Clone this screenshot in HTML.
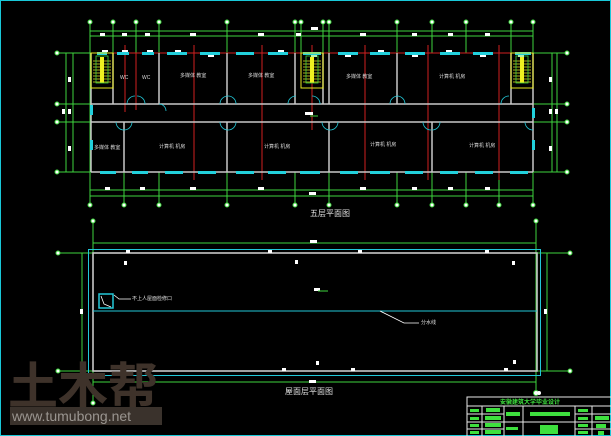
<!DOCTYPE html>
<html><head><meta charset="utf-8"><style>
html,body{margin:0;padding:0;background:#000;}
svg{display:block}
text{font-family:"Liberation Sans","Noto Sans CJK SC",sans-serif;}
</style></head><body>
<svg width="611" height="436" viewBox="0 0 611 436" xmlns="http://www.w3.org/2000/svg">
<rect x="0" y="0" width="611" height="436" fill="#000"/>
<rect x="0.5" y="0.5" width="610" height="435" fill="none" stroke="#19c8d8" stroke-width="1"/>

<g stroke="#3ed43e" stroke-width="1" fill="none">
  <line x1="90" y1="31" x2="533" y2="31"/>
  <line x1="90" y1="36" x2="533" y2="36"/>
  <line x1="90" y1="190" x2="533" y2="190"/>
  <line x1="90" y1="196" x2="533" y2="196"/>
  <g>
    <line x1="90" y1="22" x2="90" y2="205"/>
    <line x1="113" y1="22" x2="113" y2="53"/>
    <line x1="136" y1="22" x2="136" y2="53"/>
    <line x1="159" y1="22" x2="159" y2="53"/>
    <line x1="227" y1="22" x2="227" y2="53"/>
    <line x1="295" y1="22" x2="295" y2="53"/>
    <line x1="301" y1="22" x2="301" y2="53"/>
    <line x1="323" y1="22" x2="323" y2="53"/>
    <line x1="329" y1="22" x2="329" y2="53"/>
    <line x1="397" y1="22" x2="397" y2="53"/>
    <line x1="432" y1="22" x2="432" y2="53"/>
    <line x1="466" y1="22" x2="466" y2="53"/>
    <line x1="511" y1="22" x2="511" y2="53"/>
    <line x1="533" y1="22" x2="533" y2="205"/>
    <line x1="124" y1="172" x2="124" y2="205"/>
    <line x1="159" y1="172" x2="159" y2="205"/>
    <line x1="227" y1="172" x2="227" y2="205"/>
    <line x1="295" y1="172" x2="295" y2="205"/>
    <line x1="329" y1="172" x2="329" y2="205"/>
    <line x1="397" y1="172" x2="397" y2="205"/>
    <line x1="432" y1="172" x2="432" y2="205"/>
    <line x1="466" y1="172" x2="466" y2="205"/>
    <line x1="499" y1="172" x2="499" y2="205"/>
  </g>
  <line x1="57" y1="53" x2="91" y2="53"/>
  <line x1="57" y1="104" x2="91" y2="104"/>
  <line x1="57" y1="122" x2="91" y2="122"/>
  <line x1="57" y1="172" x2="91" y2="172"/>
  <line x1="66" y1="53" x2="66" y2="172"/>
  <line x1="73" y1="53" x2="73" y2="172"/>
  <line x1="533" y1="53" x2="567" y2="53"/>
  <line x1="533" y1="104" x2="567" y2="104"/>
  <line x1="533" y1="122" x2="567" y2="122"/>
  <line x1="533" y1="172" x2="567" y2="172"/>
  <line x1="552" y1="53" x2="552" y2="172"/>
  <line x1="557" y1="53" x2="557" y2="172"/>
</g>
<g fill="#fff" stroke="#3ed43e" stroke-width="1">
  <circle cx="90" cy="22" r="2"/><circle cx="113" cy="22" r="2"/><circle cx="136" cy="22" r="2"/><circle cx="159" cy="22" r="2"/>
  <circle cx="227" cy="22" r="2"/><circle cx="295" cy="22" r="2"/><circle cx="301" cy="22" r="2"/><circle cx="323" cy="22" r="2"/>
  <circle cx="329" cy="22" r="2"/><circle cx="397" cy="22" r="2"/><circle cx="432" cy="22" r="2"/><circle cx="466" cy="22" r="2"/>
  <circle cx="511" cy="22" r="2"/><circle cx="533" cy="22" r="2"/>
  <circle cx="90" cy="205" r="2"/><circle cx="124" cy="205" r="2"/><circle cx="159" cy="205" r="2"/><circle cx="227" cy="205" r="2"/>
  <circle cx="295" cy="205" r="2"/><circle cx="329" cy="205" r="2"/><circle cx="397" cy="205" r="2"/><circle cx="432" cy="205" r="2"/>
  <circle cx="466" cy="205" r="2"/><circle cx="499" cy="205" r="2"/><circle cx="533" cy="205" r="2"/>
  <circle cx="57" cy="53" r="2"/><circle cx="57" cy="104" r="2"/><circle cx="57" cy="122" r="2"/><circle cx="57" cy="172" r="2"/>
  <circle cx="567" cy="53" r="2"/><circle cx="567" cy="104" r="2"/><circle cx="567" cy="122" r="2"/><circle cx="567" cy="172" r="2"/>
</g>
<g fill="#fff">
  <rect x="100" y="33" width="5" height="3"/><rect x="122" y="33" width="5" height="3"/><rect x="145" y="33" width="5" height="3"/>
  <rect x="190" y="33" width="6" height="3"/><rect x="258" y="33" width="6" height="3"/><rect x="296" y="33" width="5" height="3"/>
  <rect x="360" y="33" width="6" height="3"/><rect x="412" y="33" width="5" height="3"/><rect x="448" y="33" width="5" height="3"/><rect x="485" y="33" width="5" height="3"/>
  <rect x="311" y="27" width="7" height="3"/>
  <rect x="105" y="187" width="5" height="3"/><rect x="140" y="187" width="5" height="3"/><rect x="190" y="187" width="6" height="3"/>
  <rect x="258" y="187" width="6" height="3"/><rect x="360" y="187" width="6" height="3"/><rect x="412" y="187" width="5" height="3"/>
  <rect x="448" y="187" width="5" height="3"/><rect x="485" y="187" width="5" height="3"/><rect x="309" y="192" width="7" height="3"/>
  <rect x="68" y="77" width="3" height="5"/><rect x="68" y="146" width="3" height="5"/><rect x="62" y="109" width="3" height="5"/><rect x="68" y="109" width="3" height="5"/>
  <rect x="549" y="77" width="3" height="5"/><rect x="549" y="146" width="3" height="5"/><rect x="549" y="109" width="3" height="5"/><rect x="555" y="109" width="3" height="5"/>
</g>
<g stroke="#d02020" stroke-width="1">
  <line x1="125" y1="45" x2="125" y2="112"/><line x1="136" y1="53" x2="136" y2="110"/>
  <line x1="194" y1="45" x2="194" y2="180"/><line x1="262" y1="45" x2="262" y2="180"/>
  <line x1="312" y1="45" x2="312" y2="130"/><line x1="365" y1="45" x2="365" y2="180"/>
  <line x1="428" y1="45" x2="428" y2="180"/><line x1="499" y1="45" x2="499" y2="180"/>
  <line x1="91" y1="53" x2="533" y2="53"/>
  <line x1="91" y1="104" x2="110" y2="104"/>
</g>
<g stroke="#c8c8c8" stroke-width="1.5" fill="none">
  <line x1="91" y1="104" x2="533" y2="104"/>
  <line x1="91" y1="122" x2="533" y2="122"/>
  <line x1="91" y1="172" x2="533" y2="172"/>
  <line x1="91" y1="53" x2="91" y2="172"/>
  <line x1="533" y1="53" x2="533" y2="172"/>
  <line x1="113" y1="53" x2="113" y2="104"/>
  <line x1="159" y1="53" x2="159" y2="104"/>
  <line x1="227" y1="53" x2="227" y2="104"/>
  <line x1="295" y1="53" x2="295" y2="104"/>
  <line x1="323" y1="53" x2="323" y2="104"/>
  <line x1="329" y1="53" x2="329" y2="104"/>
  <line x1="397" y1="53" x2="397" y2="104"/>
  <line x1="511" y1="53" x2="511" y2="104"/>
  <line x1="124" y1="122" x2="124" y2="172"/>
  <line x1="227" y1="122" x2="227" y2="172"/>
  <line x1="329" y1="122" x2="329" y2="172"/>
  <line x1="432" y1="122" x2="432" y2="172"/>
</g>
<g fill="#22d0dc">
  <rect x="97" y="52" width="10" height="3"/><rect x="117" y="52" width="12" height="3"/><rect x="142" y="52" width="12" height="3"/>
  <rect x="167" y="52" width="20" height="3"/><rect x="200" y="52" width="20" height="3"/><rect x="236" y="52" width="18" height="3"/>
  <rect x="268" y="52" width="20" height="3"/><rect x="303" y="52" width="18" height="3"/><rect x="338" y="52" width="20" height="3"/>
  <rect x="370" y="52" width="20" height="3"/><rect x="405" y="52" width="20" height="3"/><rect x="440" y="52" width="20" height="3"/>
  <rect x="473" y="52" width="20" height="3"/><rect x="515" y="52" width="16" height="3"/>
  <rect x="100" y="171" width="16" height="3"/><rect x="132" y="171" width="16" height="3"/><rect x="165" y="171" width="18" height="3"/>
  <rect x="198" y="171" width="18" height="3"/><rect x="236" y="171" width="18" height="3"/><rect x="268" y="171" width="18" height="3"/>
  <rect x="300" y="171" width="20" height="3"/><rect x="340" y="171" width="18" height="3"/><rect x="370" y="171" width="20" height="3"/>
  <rect x="405" y="171" width="18" height="3"/><rect x="440" y="171" width="18" height="3"/><rect x="475" y="171" width="18" height="3"/><rect x="510" y="171" width="18" height="3"/>
  <rect x="90" y="105" width="3" height="10"/><rect x="90" y="140" width="3" height="10"/><rect x="532" y="108" width="3" height="10"/><rect x="532" y="140" width="3" height="10"/>
</g>
<g fill="#fff">
  <rect x="102" y="50" width="6" height="2"/><rect x="122" y="50" width="6" height="2"/><rect x="147" y="50" width="6" height="2"/>
  <rect x="175" y="50" width="6" height="2"/><rect x="208" y="55" width="6" height="2"/><rect x="278" y="50" width="6" height="2"/>
  <rect x="311" y="55" width="6" height="2"/><rect x="345" y="55" width="6" height="2"/><rect x="378" y="50" width="6" height="2"/>
  <rect x="412" y="55" width="6" height="2"/><rect x="446" y="50" width="6" height="2"/><rect x="480" y="55" width="6" height="2"/><rect x="518" y="55" width="6" height="2"/>
</g>
<g stroke="#22c8d8" stroke-width="0.8" fill="none">
  <path d="M127 104 a8 8 0 0 1 8 -8 M145 104 a8 8 0 0 0 -8 -8"/>
  <path d="M159 104 a7 7 0 0 1 7 7"/>
  <path d="M220 104 a8 8 0 0 1 8 -8 M236 104 a8 8 0 0 0 -8 -8"/>
  <path d="M288 104 a8 8 0 0 1 8 -8 M320 104 a8 8 0 0 0 -8 -8"/>
  <path d="M390 104 a8 8 0 0 1 8 -8 M405 104 a8 8 0 0 0 -8 -8"/>
  <path d="M501 104 a8 8 0 0 1 8 -8"/>
  <path d="M116 122 a8 8 0 0 0 8 8 M132 122 a8 8 0 0 1 -8 8"/>
  <path d="M220 122 a8 8 0 0 0 8 8 M236 122 a8 8 0 0 1 -8 8"/>
  <path d="M322 122 a8 8 0 0 0 8 8 M338 122 a8 8 0 0 1 -8 8"/>
  <path d="M423 122 a8 8 0 0 0 8 8 M440 122 a8 8 0 0 1 -8 8"/>
  <path d="M525 122 a8 8 0 0 0 8 8"/>
</g>
<g>
  <g transform="translate(91,53)">
    <rect x="0" y="0" width="22" height="35" fill="none" stroke="#e8e820" stroke-width="1"/>
    <g stroke="#e8e820" stroke-width="0.7"><line x1="2" y1="8" x2="20" y2="8"/><line x1="2" y1="11" x2="20" y2="11"/><line x1="2" y1="14" x2="20" y2="14"/><line x1="2" y1="17" x2="20" y2="17"/><line x1="2" y1="20" x2="20" y2="20"/><line x1="2" y1="23" x2="20" y2="23"/><line x1="2" y1="26" x2="20" y2="26"/><line x1="2" y1="29" x2="20" y2="29"/></g>
    <rect x="9" y="4" width="4" height="26" fill="#f0f020"/>
    <rect x="5" y="3" width="12" height="27" fill="none" stroke="#3ed43e" stroke-width="0.8"/>
  </g>
  <g transform="translate(301,53)">
    <rect x="0" y="0" width="22" height="35" fill="none" stroke="#e8e820" stroke-width="1"/>
    <g stroke="#e8e820" stroke-width="0.7"><line x1="2" y1="8" x2="20" y2="8"/><line x1="2" y1="11" x2="20" y2="11"/><line x1="2" y1="14" x2="20" y2="14"/><line x1="2" y1="17" x2="20" y2="17"/><line x1="2" y1="20" x2="20" y2="20"/><line x1="2" y1="23" x2="20" y2="23"/><line x1="2" y1="26" x2="20" y2="26"/><line x1="2" y1="29" x2="20" y2="29"/></g>
    <rect x="9" y="4" width="4" height="26" fill="#f0f020"/>
    <rect x="5" y="3" width="12" height="27" fill="none" stroke="#3ed43e" stroke-width="0.8"/>
  </g>
  <g transform="translate(511,53)">
    <rect x="0" y="0" width="22" height="35" fill="none" stroke="#e8e820" stroke-width="1"/>
    <g stroke="#e8e820" stroke-width="0.7"><line x1="2" y1="8" x2="20" y2="8"/><line x1="2" y1="11" x2="20" y2="11"/><line x1="2" y1="14" x2="20" y2="14"/><line x1="2" y1="17" x2="20" y2="17"/><line x1="2" y1="20" x2="20" y2="20"/><line x1="2" y1="23" x2="20" y2="23"/><line x1="2" y1="26" x2="20" y2="26"/><line x1="2" y1="29" x2="20" y2="29"/></g>
    <rect x="9" y="4" width="4" height="26" fill="#f0f020"/>
    <rect x="5" y="3" width="12" height="27" fill="none" stroke="#3ed43e" stroke-width="0.8"/>
  </g>
</g>
<rect x="305" y="112" width="8" height="3" fill="#fff"/><line x1="310" y1="116" x2="318" y2="116" stroke="#3ed43e"/>
<g fill="#d8d8d8" font-size="5">
  <text x="120" y="79">WC</text><text x="142" y="79">WC</text>
  <text x="180" y="77">多媒体 教室</text><text x="248" y="77">多媒体 教室</text><text x="346" y="78">多媒体 教室</text>
  <text x="439" y="78">计算机 机房</text>
  <text x="94" y="149">多媒体 教室</text><text x="159" y="148">计算机 机房</text><text x="264" y="148">计算机 机房</text>
  <text x="370" y="146">计算机 机房</text><text x="469" y="147">计算机 机房</text>
</g>
<text x="310" y="216" fill="#e0e0e0" font-size="8">五层平面图</text>

<g stroke="#3ed43e" stroke-width="1" fill="none">
  <line x1="93" y1="221" x2="93" y2="403"/>
  <line x1="536" y1="221" x2="536" y2="393"/>
  <line x1="93" y1="243" x2="536" y2="243"/>
  <line x1="93" y1="382" x2="536" y2="382"/>
  <line x1="58" y1="253" x2="570" y2="253"/>
  <line x1="58" y1="371" x2="570" y2="371"/>
  <line x1="82" y1="253" x2="82" y2="371"/>
  <line x1="547" y1="253" x2="547" y2="371"/>
</g>
<g fill="#fff" stroke="#3ed43e"><circle cx="93" cy="221" r="2"/><circle cx="536" cy="221" r="2"/><circle cx="93" cy="403" r="2"/><circle cx="536" cy="393" r="2.5"/><circle cx="58" cy="253" r="2"/><circle cx="570" cy="253" r="2"/><circle cx="58" cy="371" r="2"/><circle cx="570" cy="371" r="2"/></g>
<rect x="88.5" y="249.5" width="452" height="126" fill="none" stroke="#22c8d8" stroke-width="1"/>
<rect x="93" y="253" width="444" height="118" fill="none" stroke="#c8c8c8" stroke-width="1.6"/>
<line x1="93" y1="311" x2="537" y2="311" stroke="#22c8d8" stroke-width="1"/>
<rect x="99" y="294" width="14" height="14" fill="none" stroke="#22c8d8" stroke-width="1.5"/>
<polyline points="101,296 104,304 111,307" fill="none" stroke="#fff" stroke-width="0.8"/>
<polyline points="114,295 119,299 131,299" fill="none" stroke="#fff" stroke-width="0.8"/>
<text x="132" y="300" fill="#e0e0e0" font-size="5">不上人屋面检修口</text>
<polyline points="380,311 404,323 419,323" fill="none" stroke="#fff" stroke-width="0.8"/>
<text x="421" y="324" fill="#e0e0e0" font-size="5">分水线</text>
<g fill="#fff">
  <rect x="126" y="250" width="4" height="3"/><rect x="268" y="250" width="4" height="3"/><rect x="358" y="250" width="4" height="3"/><rect x="485" y="250" width="4" height="3"/>
  <rect x="124" y="261" width="3" height="4"/><rect x="295" y="260" width="3" height="4"/><rect x="512" y="261" width="3" height="4"/>
  <rect x="314" y="288" width="6" height="3"/><rect x="310" y="240" width="7" height="3"/><rect x="309" y="380" width="7" height="3"/>
  <rect x="80" y="309" width="3" height="5"/><rect x="544" y="309" width="3" height="5"/>
  <rect x="282" y="368" width="4" height="3"/><rect x="351" y="368" width="4" height="3"/><rect x="504" y="368" width="4" height="3"/>
  <rect x="316" y="361" width="3" height="4"/><rect x="513" y="360" width="3" height="4"/>
</g>
<line x1="318" y1="291" x2="328" y2="291" stroke="#3ed43e"/>
<text x="285" y="394" fill="#e0e0e0" font-size="8">屋面层平面图</text>

<text x="8" y="404" fill="#3e322a" font-size="50" font-weight="bold" font-family="'Noto Sans CJK SC',sans-serif">土木帮</text>
<rect x="10" y="407" width="152" height="18" fill="#3a322c"/>
<text x="12" y="421" fill="#9a9590" font-size="14" font-family="'Liberation Mono',monospace">www.tumubong.net</text>

<g stroke="#e8e8e8" stroke-width="1" fill="none">
  <rect x="467" y="397" width="150" height="45"/>
  <line x1="467" y1="406" x2="611" y2="406"/>
  <line x1="482" y1="406" x2="482" y2="436"/>
  <line x1="504" y1="406" x2="504" y2="436"/>
  <line x1="523" y1="406" x2="523" y2="436"/>
  <line x1="575" y1="406" x2="575" y2="436"/>
  <line x1="592" y1="406" x2="592" y2="436"/>
  <line x1="467" y1="414" x2="504" y2="414"/>
  <line x1="467" y1="422" x2="611" y2="422"/>
  <line x1="467" y1="429" x2="504" y2="429"/>
  <line x1="575" y1="414" x2="611" y2="414"/>
  <line x1="575" y1="429" x2="611" y2="429"/>
</g>
<text x="500" y="404" fill="#3ee03e" font-size="6" font-weight="bold">安徽建筑大学毕业设计</text>
<g fill="#3ee03e">
  <rect x="470" y="409" width="9" height="3"/><rect x="486" y="408" width="14" height="4"/>
  <rect x="470" y="417" width="9" height="3"/><rect x="485" y="416" width="16" height="4"/>
  <rect x="470" y="424" width="9" height="3"/><rect x="485" y="423" width="16" height="4"/>
  <rect x="470" y="431" width="9" height="3"/><rect x="485" y="430" width="16" height="4"/>
  <rect x="506" y="412" width="14" height="4"/><rect x="530" y="412" width="40" height="4"/>
  <rect x="506" y="427" width="12" height="3"/><rect x="540" y="425" width="18" height="9"/>
  <rect x="578" y="409" width="10" height="3"/><rect x="578" y="417" width="10" height="3"/><rect x="578" y="424" width="10" height="3"/><rect x="578" y="431" width="10" height="3"/>
  <rect x="595" y="416" width="14" height="4"/><rect x="596" y="424" width="10" height="4"/><rect x="598" y="431" width="6" height="4"/>
</g>
<circle cx="539" cy="393" r="2" fill="#fff"/>
</svg>
</body></html>
